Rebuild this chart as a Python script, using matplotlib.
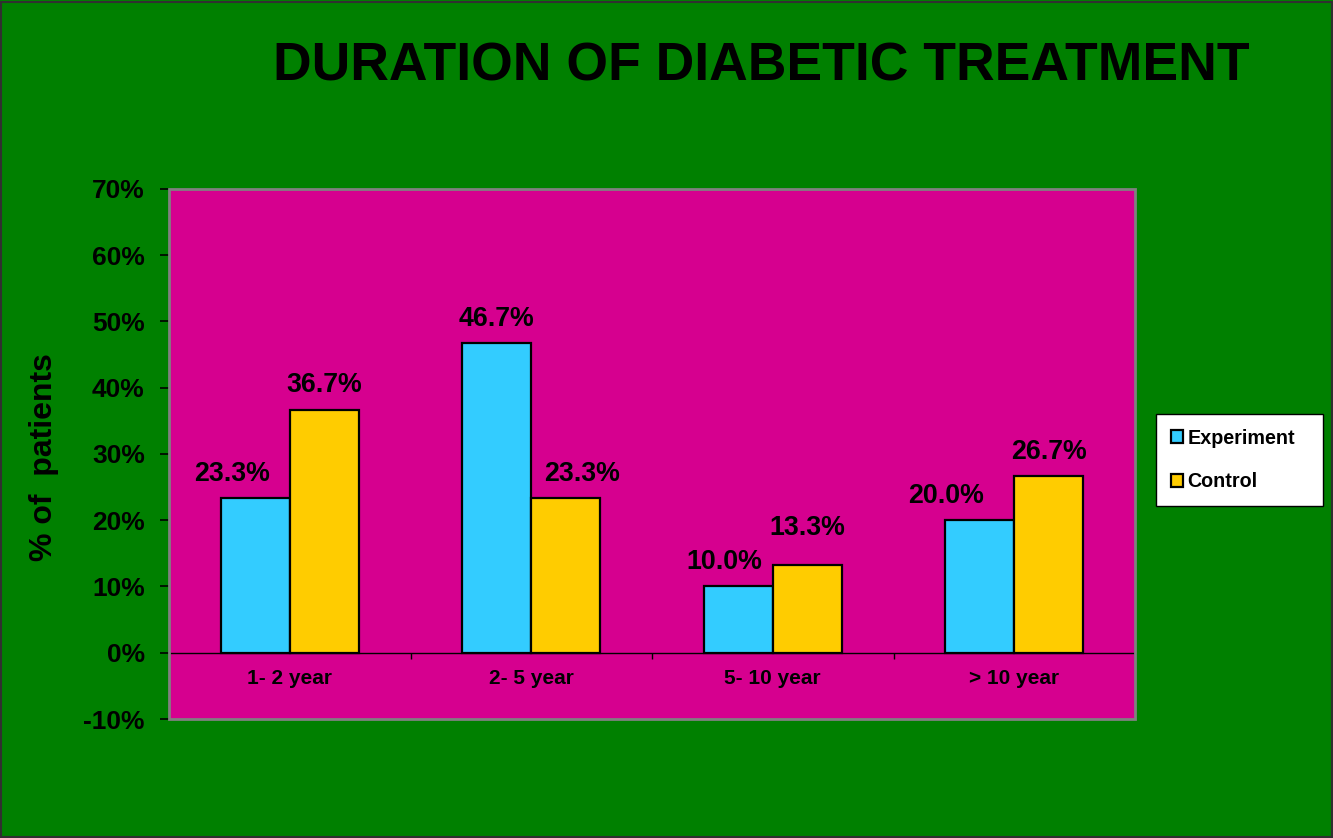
import matplotlib

matplotlib.use("Agg")
import matplotlib.pyplot as plt
import numpy as np
from matplotlib.patches import Rectangle
from matplotlib.ticker import FuncFormatter, MultipleLocator

plt.rcParams["font.family"] = ["Liberation Sans", "DejaVu Sans"]
plt.rcParams["font.weight"] = "bold"

# data (percent of patients)
categories = ["1- 2 year", "2- 5 year", "5- 10 year", "> 10 year"]
experiment = [23.3, 46.7, 10.0, 20.0]
control = [36.7, 23.3, 13.3, 26.7]
series_names = ["Experiment", "Control"]

green = "#008000"
magenta = "#d6008f"
cyan = "#33ccff"
gold = "#ffcc00"

fig = plt.figure(figsize=(13.33, 8.38), dpi=100, facecolor=green)
ax = fig.add_axes([0.1268, 0.142, 0.7247, 0.6325])
ax.set_facecolor(magenta)

x = np.arange(len(categories))
w = 0.285
b1 = ax.bar(x - w / 2, experiment, w, color=cyan, edgecolor="black",
            linewidth=1.6, label=series_names[0], zorder=3)
b2 = ax.bar(x + w / 2, control, w, color=gold, edgecolor="black",
            linewidth=1.6, label=series_names[1], zorder=3)

# value labels (some nudged sideways like the original)
nudge_exp = [(-17, 8), (0, 8), (-10, 8), (-24, 8)]
nudge_ctl = [(0, 8), (12, 8), (0, 17), (0, 8)]
for bars, vals, nudges in ((b1, experiment, nudge_exp), (b2, control, nudge_ctl)):
    for rect, v, (dx, dy) in zip(bars, vals, nudges):
        ax.annotate("%.1f%%" % v, (rect.get_x() + rect.get_width() / 2, v),
                    xytext=(dx, dy), textcoords="offset points",
                    ha="center", va="bottom", fontsize=19.3, fontweight="bold")

ax.set_xlim(-0.5, len(categories) - 0.5)
ax.set_ylim(-10, 70)
ax.yaxis.set_major_locator(MultipleLocator(10))
ax.yaxis.set_major_formatter(FuncFormatter(lambda v, p: "%d%%" % round(v)))
ax.tick_params(axis="y", direction="out", length=6.5, width=1.2,
               labelsize=19, pad=11, colors="black")

# category axis drawn at zero
ax.spines["bottom"].set_position(("data", 0))
ax.spines["bottom"].set_color("black")
ax.spines["bottom"].set_linewidth(1.0)
ax.spines["bottom"].set_zorder(4)
for s in ("left", "top", "right"):
    ax.spines[s].set_visible(False)
ax.set_xticks(x)
ax.set_xticklabels(categories)
ax.set_xticks(np.arange(len(categories) + 1) - 0.5, minor=True)
ax.tick_params(axis="x", which="major", length=0, labelsize=15, pad=12)
ax.tick_params(axis="x", which="minor", direction="out", length=4, width=1)

# gray plot area border
ax.add_patch(Rectangle((0, 0), 1, 1, transform=ax.transAxes, fill=False,
                       edgecolor="#808080", linewidth=2, clip_on=False, zorder=5))

fig.text(0.571, 0.921, "DURATION OF DIABETIC TREATMENT", ha="center",
         va="center", fontsize=38.5, fontweight="bold")
fig.text(0.033, 0.455, "% of  patients", rotation=90, ha="center",
         va="center", fontsize=23, fontweight="bold")

leg = fig.legend(handles=[b1, b2], loc="upper left",
                 bbox_to_anchor=(0.867, 0.408, 0.1255, 0.098), mode="expand",
                 fontsize=14.2, frameon=True, fancybox=False, edgecolor="black",
                 facecolor="white", framealpha=1, handlelength=0.65,
                 handleheight=0.65, handletextpad=0.2, labelspacing=1.25,
                 borderpad=0.75, borderaxespad=0)
leg.get_frame().set_linewidth(1.0)
for t in leg.get_texts():
    t.set_fontweight("bold")

# thin figure frame
fig.patches.append(Rectangle((0.001, 0.001), 0.998, 0.997,
                             transform=fig.transFigure, fill=False,
                             edgecolor="#303030", linewidth=1.5))

fig.savefig("out.png", dpi=100, facecolor=green)
